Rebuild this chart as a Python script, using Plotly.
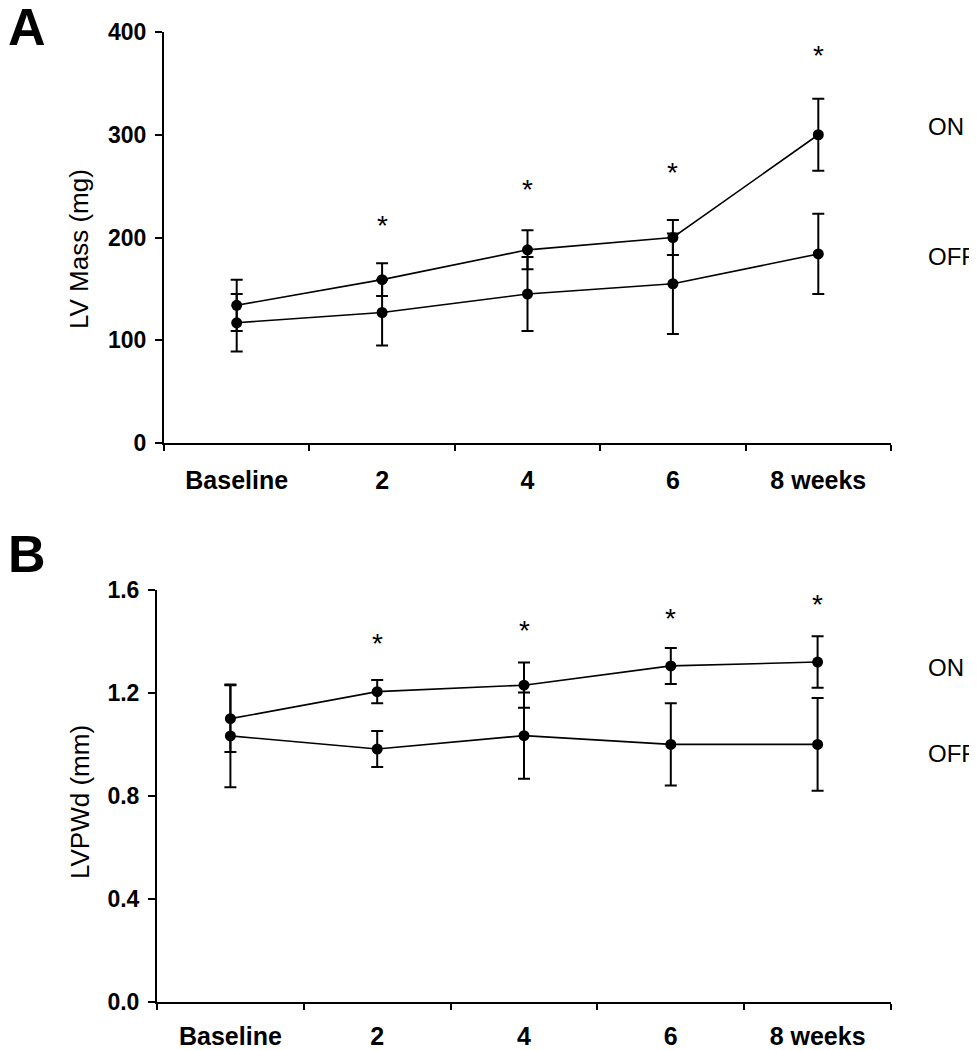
import plotly.graph_objects as go

# ---------------- data ----------------
weeks = ["Baseline", "2", "4", "6", "8 weeks"]

mass_on = [134, 159, 188, 200, 300]
mass_on_err = [25, 16, 19, 17, 35]
mass_off = [117, 127, 145, 155, 184]
mass_off_err = [28, 32, 36, 49, 39]
mass_star = [None, 218, 254, 270, 384]

pw_on = [1.10, 1.205, 1.23, 1.305, 1.32]
pw_on_err = [0.13, 0.045, 0.088, 0.07, 0.10]
pw_off = [1.033, 0.982, 1.034, 1.00, 1.00]
pw_off_err = [0.20, 0.07, 0.168, 0.16, 0.18]
pw_star = [None, 1.42, 1.47, 1.516, 1.572]

mass_ticks = [0, 100, 200, 300, 400]
pw_ticks = [0.0, 0.4, 0.8, 1.2, 1.6]

# ---------------- layout helpers ----------------
OFF_PX = 8                       # page body margin
W, H = 977 - OFF_PX, 1050 - OFF_PX
FONT = "Liberation Sans, Arial, sans-serif"


def px(x):
    return (x - OFF_PX) / W


def py(y):
    return 1 - (y - OFF_PX) / H


fig = go.Figure()


def add_series(xa, ya, vals, errs):
    fig.add_trace(go.Scatter(
        x=weeks, y=vals, xaxis=xa, yaxis=ya, mode="lines+markers",
        line=dict(color="black", width=1.6),
        marker=dict(color="black", size=11),
        error_y=dict(type="data", array=errs, visible=True,
                     color="black", thickness=2, width=6),
        showlegend=False, cliponaxis=False,
    ))


add_series("x", "y", mass_on, mass_on_err)
add_series("x", "y", mass_off, mass_off_err)
add_series("x2", "y2", pw_on, pw_on_err)
add_series("x2", "y2", pw_off, pw_off_err)

annotations = []
star_font = dict(size=28, family=FONT, color="black")
for i, s in enumerate(mass_star):
    if s is not None:
        annotations.append(dict(x=i, y=s, xref="x", yref="y", text="*",
                                showarrow=False, yshift=-7, font=star_font))
for i, s in enumerate(pw_star):
    if s is not None:
        annotations.append(dict(x=i, y=s, xref="x2", yref="y2", text="*",
                                showarrow=False, yshift=-7, font=star_font))

lab_font = dict(size=24, family=FONT, color="black")
for text, ypx in [("ON", 126), ("OFF", 257), ("ON", 667), ("OFF", 753)]:
    annotations.append(dict(x=px(926), y=py(ypx), xref="paper", yref="paper",
                            text=text, showarrow=False, xanchor="left",
                            yanchor="middle", font=lab_font))

# panel letters
for text, ypx in [("A", 27), ("B", 554)]:
    annotations.append(dict(x=px(8), y=py(ypx), xref="paper", yref="paper",
                            text="<b>%s</b>" % text, showarrow=False,
                            xanchor="left", yanchor="middle", xshift=-2,
                            font=dict(size=52, family=FONT, color="black")))

# y-axis titles
for text, xp, ypx in [("LV Mass (mg)", 79, 249), ("LVPWd (mm)", 80, 802)]:
    annotations.append(dict(x=px(xp), y=py(ypx), xref="paper", yref="paper",
                            text=text, textangle=-90, showarrow=False,
                            xanchor="center", yanchor="middle",
                            font=dict(size=26, family=FONT, color="black")))

xcommon = dict(type="category", range=[-0.5, 4.5], tickson="boundaries",
               ticks="outside", ticklen=6, tickwidth=2, tickcolor="black",
               showline=True, linewidth=2, linecolor="black",
               showgrid=False, zeroline=False, automargin=False,
               tickfont=dict(size=25, family=FONT, color="black", weight="bold"))
ycommon = dict(ticks="outside", ticklen=7, tickwidth=2, tickcolor="black",
               showline=True, linewidth=2, linecolor="black",
               showgrid=False, zeroline=False, automargin=False,
               tickfont=dict(size=23, family=FONT, color="black", weight="bold"),
               ticklabelstandoff=4)

fig.update_layout(
    width=W, height=H,
    margin=dict(l=0, r=0, t=0, b=0),
    paper_bgcolor="white", plot_bgcolor="white",
    font=dict(family=FONT, color="black"),
    xaxis=dict(domain=[px(164), px(891)], anchor="y", ticklabelstandoff=14,
               **xcommon),
    yaxis=dict(domain=[py(443), py(32)], anchor="x", range=[0, 400],
               tickvals=mass_ticks, **ycommon),
    xaxis2=dict(domain=[px(157), px(891)], anchor="y2", ticklabelstandoff=11,
                **xcommon),
    yaxis2=dict(domain=[py(1001.7), py(590)], anchor="x2", range=[0, 1.6],
                tickvals=pw_ticks, tickformat=".1f", **ycommon),
    annotations=annotations,
)

fig.write_html("out.html")
